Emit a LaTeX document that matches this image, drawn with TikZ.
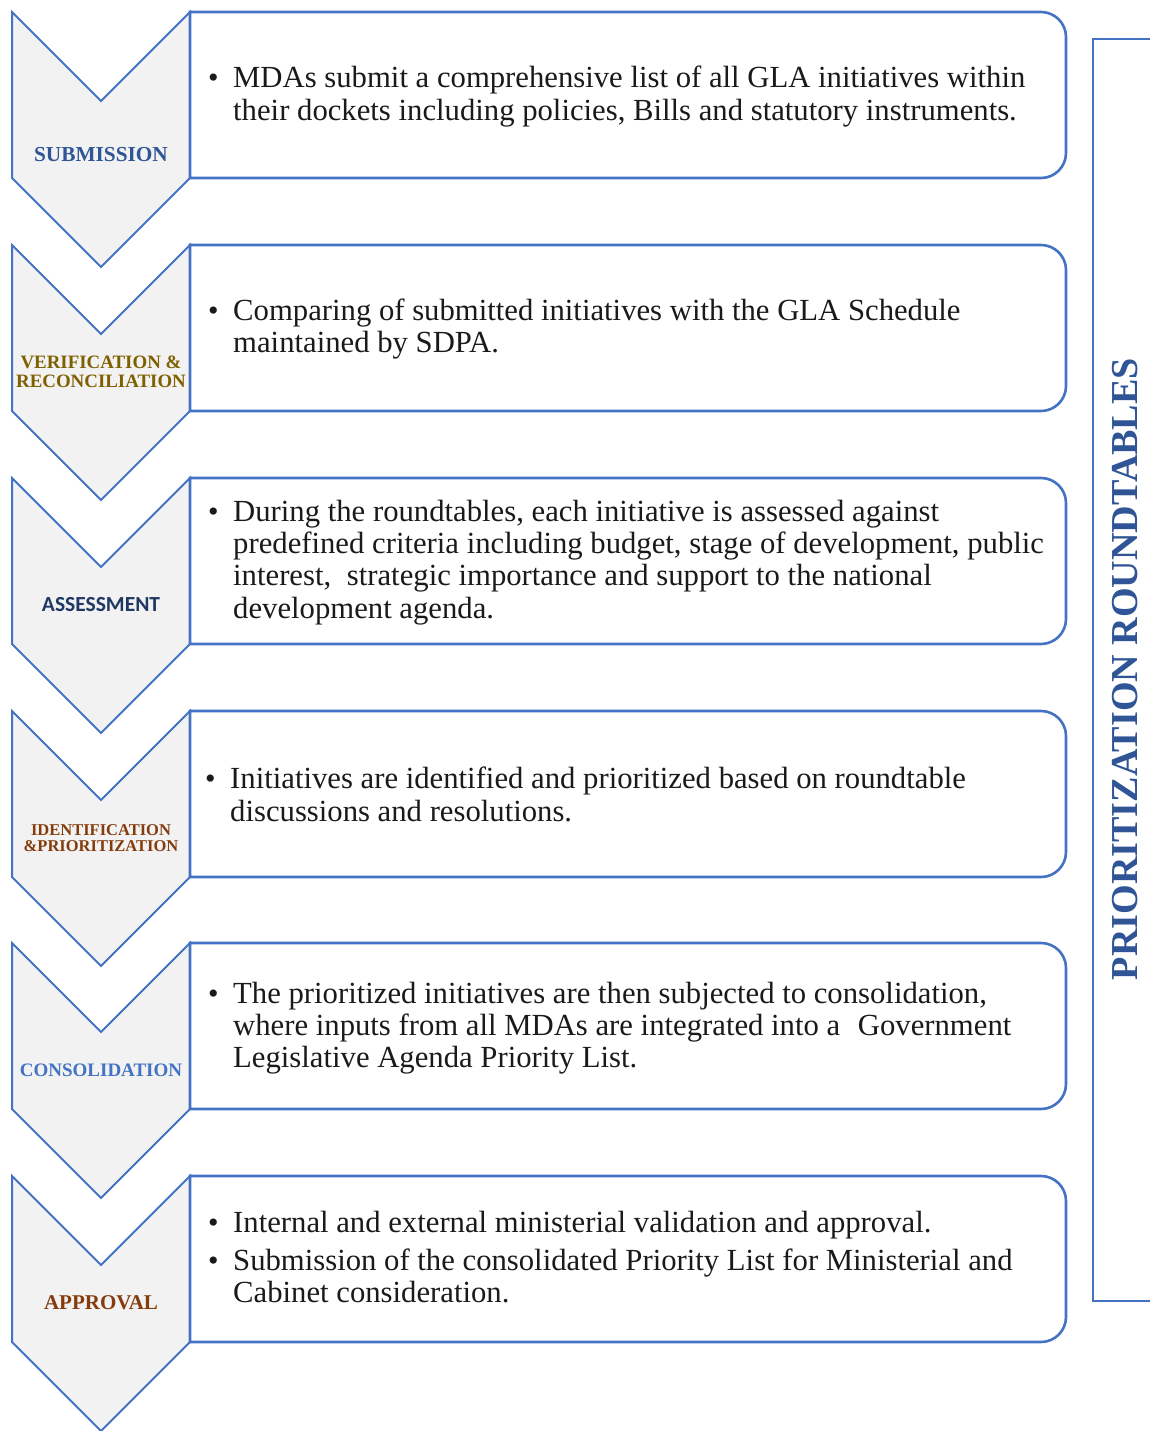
\documentclass[tikz,border=0pt]{standalone}
\usepackage{fontspec}
\setmainfont{Liberation Serif}
\newfontfamily\labsans{Carlito}
\definecolor{cblue}{HTML}{4472C4}
\definecolor{chevfill}{HTML}{F2F2F2}
\definecolor{lblue}{HTML}{2F5597}
\definecolor{lolive}{HTML}{7F6000}
\definecolor{lnavy}{HTML}{1F3864}
\definecolor{lbrown}{HTML}{843C0C}
\definecolor{txt}{HTML}{1A1A1A}
\begin{document}
\begin{tikzpicture}[x=1pt,y=-1pt,
  chev/.style={draw=cblue, fill=chevfill, line width=2pt, line join=miter},
  boxs/.style={draw=cblue, fill=white, line width=2.6pt},
  body/.style={anchor=base west, inner sep=0pt, text=txt, font=\fontsize{30.7}{33}\selectfont},
  bul/.style={anchor=base west, inner sep=0pt, text=txt, font=\fontsize{30}{33}\selectfont},
  lab/.style={inner sep=0pt, align=center, font=\bfseries\fontsize{21.3}{20}\selectfont}]
\useasboundingbox (0,0) rectangle (1150,1431);

% chevrons and boxes
\foreach \t in {12,245,478,711,943,1176}{
  \draw[chev] (12,\t) -- (101,\t+89) -- (190,\t) -- (190,\t+166) -- (101,\t+255) -- (12,\t+166) -- cycle;
  \draw[boxs] (190,\t) -- (1041,\t) arc[start angle=-90,end angle=0,radius=25]
     -- (1066,\t+141) arc[start angle=0,end angle=90,radius=25] -- (190,\t+166) -- cycle;
}

% labels
\node[lab, text=lblue] (l1) at (101,155) {SUBMISSION};
\node[lab, text=lolive, font=\bfseries\fontsize{18.9}{19}\selectfont] (l2) at (101,372) {VERIFICATION \&\\RECONCILIATION};
\node[lab, text=lnavy, font=\labsans\bfseries\fontsize{21.5}{20}\selectfont] (l3) at (101,605) {ASSESSMENT};
\node[lab, text=lbrown, font=\bfseries\fontsize{16.5}{16}\selectfont] (l4) at (101,838) {IDENTIFICATION\\\&PRIORITIZATION};
\node[lab, text=cblue, font=\bfseries\fontsize{19}{20}\selectfont] (l5) at (101,1070) {CONSOLIDATION};
\node[lab, text=lbrown, font=\bfseries\fontsize{21}{20}\selectfont] (l6) at (101,1303) {APPROVAL};

% step 1
\node[bul] (b1) at (208,88) {\textbullet};
\node[body] (t1a) at (233,88) {MDAs submit a comprehensive list of all GLA initiatives within};
\node[body] (t1b) at (233,121) {their dockets including policies, Bills and statutory instruments.};
% step 2
\node[bul] (b2) at (208,320) {\textbullet};
\node[body] (t2a) at (233,320) {Comparing of submitted initiatives with the GLA Schedule};
\node[body] (t2b) at (233,352) {maintained by SDPA.};
% step 3
\node[bul] (b3) at (208,521) {\textbullet};
\node[body] (t3a) at (233,521) {During the roundtables, each initiative is assessed against};
\node[body] (t3b) at (233,553) {predefined criteria including budget, stage of development, public};
\node[body] (t3c) at (233,585) {interest,\hspace{8pt} strategic importance and support to the national};
\node[body] (t3d) at (233,618) {development agenda.};
% step 4
\node[bul] (b4) at (205,788) {\textbullet};
\node[body] (t4a) at (230,788) {Initiatives are identified and prioritized based on roundtable};
\node[body] (t4b) at (230,821) {discussions and resolutions.};
% step 5
\node[bul] (b5) at (208,1003) {\textbullet};
\node[body] (t5a) at (233,1003) {The prioritized initiatives are then subjected to consolidation,};
\node[body] (t5b) at (233,1035) {where inputs from all MDAs are integrated into a\hspace{10pt} Government};
\node[body] (t5c) at (233,1067) {Legislative Agenda Priority List.};
% step 6
\node[bul] (b6a) at (208,1232) {\textbullet};
\node[body] (t6a) at (233,1232) {Internal and external ministerial validation and approval.};
\node[bul] (b6b) at (208,1270) {\textbullet};
\node[body] (t6b) at (233,1270) {Submission of the consolidated Priority List for Ministerial and};
\node[body] (t6c) at (233,1302) {Cabinet consideration.};

% right bracket
\coordinate (bt) at (1150,39);
\coordinate (bb) at (1150,1301);
\draw[cblue, line width=1.4pt] (bt) -- (1093,39) -- (1093,1301) -- (bb);
\node[rotate=90, inner sep=0pt, text=lblue, font=\bfseries\fontsize{38.1}{38}\selectfont] (rt) at (1125,669) {PRIORITIZATION ROUNDTABLES};
\end{tikzpicture}
\end{document}
